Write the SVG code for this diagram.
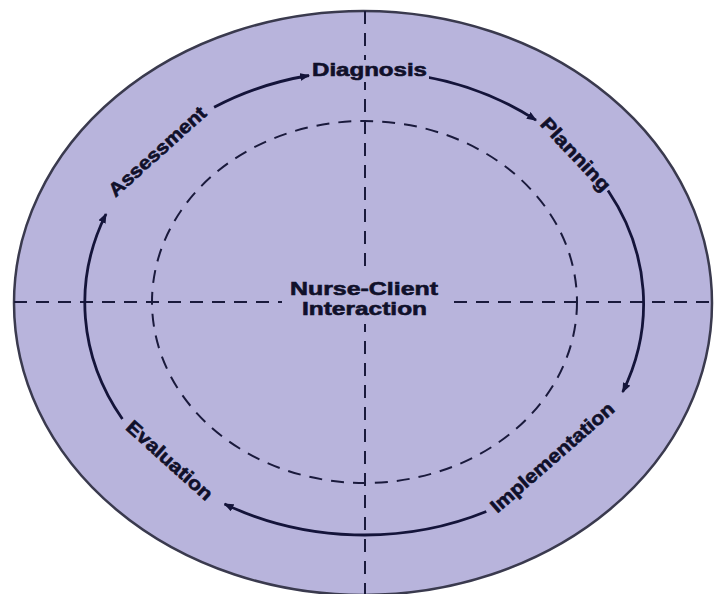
<svg xmlns="http://www.w3.org/2000/svg" width="721" height="594" viewBox="0 0 721 594">
  <style>
    .lbl { font-family: "Liberation Sans", Arial, sans-serif; font-weight: bold; font-size: 19px; fill: #10102a; stroke: #10102a; stroke-width: 0.6; text-anchor: middle; }
    .dash { fill: none; stroke: #1a1a3c; stroke-width: 2; stroke-dasharray: 13 9; }
    .cyc { fill: none; stroke: #14143a; stroke-width: 2.8; }
    .bg { fill: #b8b4dc; }
  </style>
  <defs>
    <marker id="arr" markerUnits="userSpaceOnUse" markerWidth="10" markerHeight="8" refX="9" refY="4" orient="auto">
      <path d="M0,0 L10,4 L0,8 Z" fill="#14143a"/>
    </marker>
  </defs>
  <rect width="721" height="594" fill="#ffffff"/>
  <g id="background">
    <ellipse cx="363" cy="303" rx="349" ry="292" fill="#b8b4dc" stroke="#3a3a4e" stroke-width="2.5"/>
    <ellipse cx="364.5" cy="302" rx="212.5" ry="181" class="dash"/>
    <line x1="365" y1="11" x2="365" y2="594" class="dash"/>
    <line x1="14" y1="302" x2="712" y2="302" class="dash" stroke-dasharray="16 8"/>
  </g>
  <g id="connectors">
    <path class="cyc" d="M122.4,419 A279,232 0 0 1 106,214" marker-end="url(#arr)"/>
    <path class="cyc" d="M214.1,107.3 A279,232 0 0 1 309,75.5" marker-end="url(#arr)"/>
    <path class="cyc" d="M422,76.1 A279,232 0 0 1 536,120.2" marker-end="url(#arr)"/>
    <path class="cyc" d="M608,190.5 A279,232 0 0 1 622.7,392" marker-end="url(#arr)"/>
    <path class="cyc" d="M486.3,511.5 A279,232 0 0 1 224.5,503.9" marker-end="url(#arr)"/>
  </g>
  <g id="center">
    <rect class="bg" x="282" y="275" width="165" height="49"/>
    <text class="lbl" x="364" y="295" font-size="17" textLength="148" lengthAdjust="spacingAndGlyphs">Nurse-Client</text>
    <text class="lbl" x="364.5" y="315" font-size="17" textLength="125" lengthAdjust="spacingAndGlyphs">Interaction</text>
  </g>
  <g id="diagnosis">
    <rect class="bg" x="311" y="60" width="118" height="22"/>
    <text class="lbl" x="369.5" y="76" textLength="115" lengthAdjust="spacingAndGlyphs">Diagnosis</text>
  </g>
  <g id="planning" transform="translate(576,154) rotate(47)">
    <text class="lbl" x="0" y="7" textLength="93" lengthAdjust="spacingAndGlyphs">Planning</text>
  </g>
  <g id="implementation" transform="translate(552,457) rotate(-41)">
    <text class="lbl" x="0" y="7" textLength="157" lengthAdjust="spacingAndGlyphs">Implementation</text>
  </g>
  <g id="evaluation" transform="translate(170,460) rotate(42)">
    <text class="lbl" x="0" y="7" textLength="109" lengthAdjust="spacingAndGlyphs">Evaluation</text>
  </g>
  <g id="assessment" transform="translate(157,151) rotate(-42)">
    <text class="lbl" x="0" y="7" textLength="124" lengthAdjust="spacingAndGlyphs">Assessment</text>
  </g>
</svg>
